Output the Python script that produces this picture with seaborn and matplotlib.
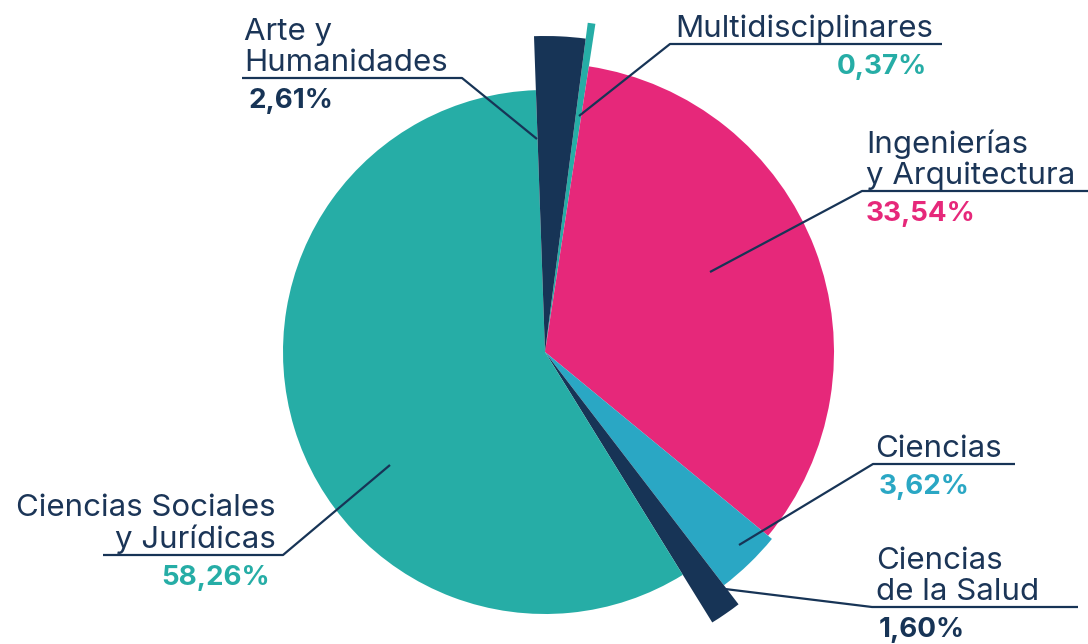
import matplotlib
matplotlib.use("Agg")
import matplotlib.pyplot as plt
import seaborn as sns

sns.set_theme(style="white")
plt.rcParams['font.family'] = ['Inter', 'DejaVu Sans']

# data, clockwise from the top
areas = ["Multidisciplinares", "Ingenierías\ny Arquitectura", "Ciencias",
         "Ciencias\nde la Salud", "Ciencias Sociales\ny Jurídicas", "Arte y\nHumanidades"]
shares = [0.37, 33.54, 3.62, 1.60, 58.26, 2.61]
pct_labels = ["0,37%", "33,54%", "3,62%", "1,60%", "58,26%", "2,61%"]

teal, pink, blue, navy = "#26ADA6", "#E6287A", "#2AA7C4", "#173456"
slice_colors = [teal, pink, blue, navy, teal, navy]
slice_radius = [332, 289, 294, 318, 262, 316]   # pixels, each slice has its own length

W, H = 1088, 644
cx, cy = 545, H - 352


def up(y):
    # picture rows -> axes y (y goes up)
    return H - y


# leader line: point in slice, elbow, end of underline (picture pixels)
leaders = [
    [(579, 116), (670, 44), (942, 44)],
    [(710, 272), (862, 191), (1088, 191)],
    [(739, 545), (873, 464), (1015, 464)],
    [(725, 589), (872, 607), (1078, 607)],
    [(390, 465), (283, 555), (103, 555)],
    [(537, 139), (462, 78), (242, 78)],
]
# name position (x, ha) and percent position (x, ha)
name_pos = [(675, 'left'), (866, 'left'), (875, 'left'), (876, 'left'), (276, 'right'), (244, 'left')]
pct_pos = [(927, 'right'), (866, 'left'), (879, 'left'), (879, 'left'), (270, 'right'), (248, 'left')]

fig = plt.figure(figsize=(W / 100, H / 100), dpi=100)
ax = fig.add_axes([0, 0, 1, 1])

for i in range(len(shares)):
    cols = ['none'] * len(shares)
    cols[i] = slice_colors[i]
    ax.pie(shares, radius=slice_radius[i], center=(cx, cy), startangle=82.6,
           counterclock=False, colors=cols, wedgeprops=dict(linewidth=0))

for i in range(len(shares)):
    pts = leaders[i]
    ax.plot([p[0] for p in pts], [up(p[1]) for p in pts], color=navy, lw=1.6,
            solid_capstyle='butt')
    y_line = pts[-1][1]
    ax.text(name_pos[i][0], up(y_line - 1), areas[i], ha=name_pos[i][1], va='bottom',
            fontsize=22.5, color="#1B3557", linespacing=1.12)
    ax.text(pct_pos[i][0], up(y_line + 10), pct_labels[i], ha=pct_pos[i][1], va='top',
            fontsize=20, fontweight='bold', color=slice_colors[i])

ax.set_xlim(0, W)
ax.set_ylim(0, H)
ax.set_aspect('equal')
ax.axis('off')

fig.savefig("out.png", dpi=100, facecolor='white')
